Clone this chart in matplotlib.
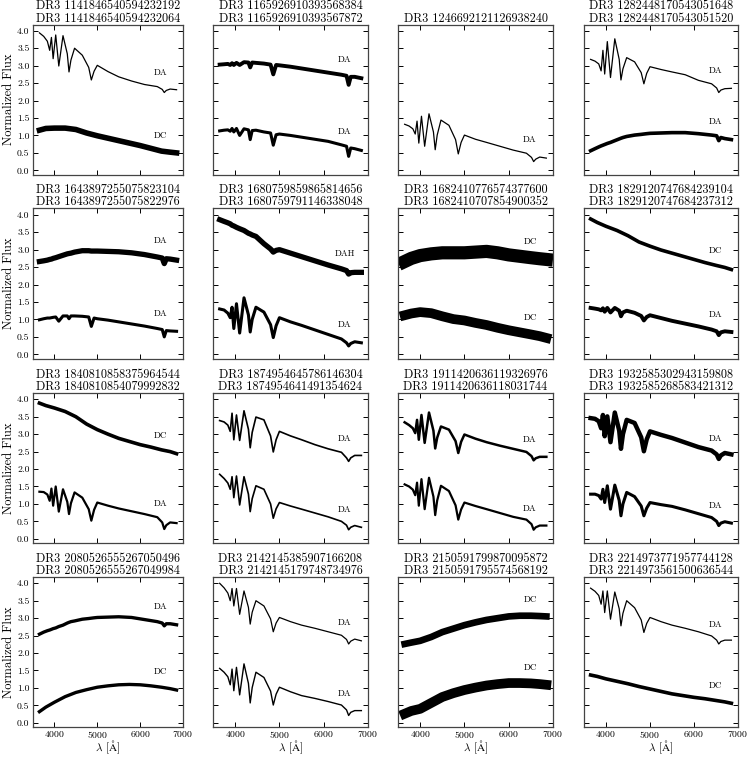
import numpy as np
import matplotlib.pyplot as plt

plt.rcParams['font.family'] = ['cmr10', 'DejaVu Serif']
plt.rcParams['mathtext.fontset'] = 'cm'
plt.rcParams['axes.formatter.use_mathtext'] = True

# wavelengths where the flux was read: Balmer lines plus continuum / wings
wl = [3650, 3750, 3835, 3889, 3930, 3970, 4030, 4102, 4200, 4300, 4340, 4385, 4470, 4650,
      4800, 4861, 4925, 5000, 5250, 5500, 5800, 6100, 6400, 6515, 6563, 6610, 6700, 6850]
# coarser wavelengths for featureless (DC-like) spectra
wl_c = [3650, 3800, 4000, 4250, 4500, 4750, 5000, 5250, 5500, 5750, 6000, 6250, 6500, 6700, 6850]

f00_top = [3.94, 3.84, 3.70, 3.44, 3.81, 3.20, 3.88, 2.99, 3.86, 3.34, 2.82, 3.16, 3.50, 3.30,
           2.95, 2.59, 2.84, 3.01, 2.83, 2.68, 2.56, 2.46, 2.40, 2.32, 2.23, 2.29, 2.33, 2.31]
f00_bot = [1.15, 1.20, 1.21, 1.21, 1.17, 1.07, 0.99, 0.92, 0.85, 0.78, 0.71, 0.63, 0.55, 0.52, 0.50]
f01_top = [3.03, 3.04, 3.05, 3.02, 3.07, 3.02, 3.08, 3.02, 3.10, 3.09, 2.95, 3.09, 3.08, 3.06,
           3.03, 2.75, 3.02, 3.01, 2.97, 2.92, 2.86, 2.80, 2.74, 2.71, 2.45, 2.68, 2.68, 2.64]
f01_bot = [1.13, 1.15, 1.16, 1.12, 1.20, 1.10, 1.20, 1.00, 1.19, 1.16, 0.88, 1.14, 1.15, 1.10,
           1.07, 0.72, 1.02, 1.04, 1.00, 0.95, 0.89, 0.83, 0.73, 0.69, 0.40, 0.64, 0.62, 0.57]
f02_top = [1.32, 1.27, 1.19, 1.04, 1.41, 0.78, 1.55, 0.69, 1.62, 1.10, 0.59, 1.01, 1.44, 1.29,
           0.88, 0.47, 0.80, 1.01, 0.89, 0.80, 0.69, 0.58, 0.49, 0.37, 0.25, 0.32, 0.38, 0.35]
f03_top = [3.18, 3.13, 3.05, 2.85, 3.44, 2.76, 3.69, 2.66, 3.77, 3.18, 2.59, 2.91, 3.23, 3.11,
           2.80, 2.48, 2.78, 2.97, 2.89, 2.82, 2.74, 2.58, 2.48, 2.36, 2.23, 2.30, 2.34, 2.35]
f03_bot = [0.56, 0.62, 0.67, 0.70, 0.72, 0.74, 0.77, 0.80, 0.85, 0.90, 0.92, 0.94, 0.97, 1.01,
           1.03, 1.04, 1.05, 1.06, 1.07, 1.08, 1.08, 1.05, 1.01, 0.99, 0.85, 0.94, 0.91, 0.88]

f10_top = [2.66, 2.68, 2.70, 2.72, 2.73, 2.75, 2.77, 2.80, 2.84, 2.88, 2.89, 2.90, 2.93, 2.97,
           2.97, 2.96, 2.96, 2.96, 2.95, 2.94, 2.91, 2.86, 2.79, 2.76, 2.60, 2.74, 2.73, 2.70]
f10_bot = [0.99, 1.02, 1.04, 1.04, 1.05, 1.06, 1.07, 0.95, 1.10, 1.10, 1.02, 1.10, 1.10, 1.09,
           1.07, 0.80, 1.04, 1.02, 0.98, 0.93, 0.87, 0.81, 0.74, 0.71, 0.50, 0.68, 0.67, 0.66]
f11_top = [3.86, 3.81, 3.77, 3.74, 3.70, 3.68, 3.64, 3.60, 3.55, 3.47, 3.45, 3.42, 3.38, 3.17,
           3.02, 2.93, 2.98, 3.00, 2.90, 2.80, 2.68, 2.56, 2.45, 2.40, 2.30, 2.34, 2.35, 2.35]
f11_bot = [1.30, 1.27, 1.18, 1.05, 1.35, 0.74, 1.45, 0.61, 1.62, 1.13, 0.64, 1.00, 1.35, 1.21,
           0.85, 0.48, 0.82, 1.05, 0.93, 0.83, 0.70, 0.57, 0.44, 0.33, 0.24, 0.31, 0.36, 0.33]
f12_top = [2.66, 2.75, 2.83, 2.88, 2.91, 2.91, 2.91, 2.93, 2.95, 2.91, 2.85, 2.81, 2.77, 2.74, 2.72]
f12_bot = [1.12, 1.17, 1.21, 1.18, 1.09, 1.01, 0.97, 0.90, 0.84, 0.76, 0.69, 0.63, 0.57, 0.52, 0.47]
f13_top = [3.88, 3.78, 3.67, 3.55, 3.40, 3.22, 3.10, 2.99, 2.90, 2.81, 2.72, 2.63, 2.55, 2.49, 2.43]
f13_bot = [1.33, 1.31, 1.29, 1.26, 1.32, 1.22, 1.33, 1.20, 1.33, 1.25, 1.09, 1.20, 1.25, 1.19,
           1.10, 0.97, 1.07, 1.12, 1.04, 0.96, 0.88, 0.80, 0.71, 0.66, 0.55, 0.63, 0.66, 0.64]

f20_top = [3.89, 3.82, 3.75, 3.65, 3.50, 3.29, 3.13, 3.00, 2.88, 2.79, 2.70, 2.63, 2.55, 2.50, 2.44]
f20_bot = [1.35, 1.34, 1.27, 1.09, 1.44, 0.95, 1.50, 0.78, 1.42, 1.06, 0.71, 1.02, 1.33, 1.18,
           0.85, 0.52, 0.83, 1.04, 0.95, 0.87, 0.79, 0.71, 0.62, 0.47, 0.28, 0.39, 0.47, 0.45]
f21_top = [3.39, 3.35, 3.26, 3.08, 3.60, 2.84, 3.55, 2.82, 3.67, 3.14, 2.61, 3.05, 3.49, 3.41,
           2.95, 2.49, 2.84, 3.08, 2.95, 2.84, 2.70, 2.58, 2.48, 2.32, 2.22, 2.32, 2.39, 2.39]
f21_bot = [1.85, 1.73, 1.60, 1.42, 1.78, 1.18, 1.80, 0.97, 1.78, 1.28, 0.78, 1.15, 1.52, 1.42,
           1.00, 0.59, 0.86, 1.04, 0.94, 0.85, 0.74, 0.63, 0.50, 0.39, 0.26, 0.33, 0.38, 0.33]
f22_top = [3.34, 3.26, 3.17, 3.03, 3.41, 2.84, 3.55, 2.75, 3.62, 3.10, 2.59, 2.90, 3.22, 3.13,
           2.80, 2.46, 2.78, 2.99, 2.87, 2.77, 2.67, 2.58, 2.49, 2.37, 2.25, 2.31, 2.35, 2.35]
f22_bot = [1.56, 1.50, 1.41, 1.25, 1.61, 0.95, 1.71, 0.85, 1.75, 1.21, 0.68, 1.10, 1.52, 1.37,
           0.96, 0.55, 0.84, 1.04, 0.94, 0.85, 0.74, 0.63, 0.55, 0.42, 0.26, 0.33, 0.38, 0.38]
f23_top = [3.46, 3.44, 3.37, 3.17, 3.55, 2.94, 3.51, 2.77, 3.62, 3.10, 2.58, 3.00, 3.41, 3.32,
           2.91, 2.51, 2.85, 3.08, 2.98, 2.89, 2.76, 2.63, 2.53, 2.42, 2.29, 2.39, 2.46, 2.42]
f23_bot = [1.28, 1.28, 1.24, 1.14, 1.42, 1.04, 1.52, 0.85, 1.54, 1.10, 0.66, 1.00, 1.33, 1.21,
           0.94, 0.66, 0.88, 1.04, 0.98, 0.93, 0.83, 0.72, 0.61, 0.50, 0.38, 0.45, 0.49, 0.45]

f30_top = [2.54, 2.60, 2.64, 2.66, 2.68, 2.70, 2.72, 2.76, 2.80, 2.86, 2.88, 2.90, 2.92, 2.97,
           2.99, 3.00, 3.01, 3.02, 3.03, 3.04, 3.02, 2.96, 2.90, 2.86, 2.78, 2.84, 2.84, 2.81]
f30_bot = [0.32, 0.45, 0.59, 0.75, 0.87, 0.95, 1.02, 1.06, 1.09, 1.10, 1.09, 1.06, 1.02, 0.98, 0.94]
f31_top = [4.00, 3.87, 3.72, 3.50, 3.85, 3.35, 3.85, 3.11, 3.78, 3.31, 2.83, 3.17, 3.50, 3.35,
           2.98, 2.61, 2.86, 3.02, 2.90, 2.80, 2.71, 2.61, 2.51, 2.39, 2.26, 2.34, 2.40, 2.35]
f31_bot = [1.56, 1.45, 1.32, 1.09, 1.54, 0.92, 1.59, 0.80, 1.69, 1.13, 0.57, 1.01, 1.45, 1.30,
           0.91, 0.51, 0.82, 1.02, 0.89, 0.78, 0.70, 0.61, 0.51, 0.37, 0.21, 0.30, 0.35, 0.35]
f32_top = [2.26, 2.30, 2.35, 2.46, 2.60, 2.70, 2.80, 2.88, 2.95, 3.00, 3.05, 3.07, 3.07, 3.06, 3.05]
f32_bot = [0.26, 0.34, 0.40, 0.57, 0.74, 0.85, 0.94, 1.01, 1.07, 1.11, 1.14, 1.14, 1.13, 1.11, 1.09]
f33_top = [3.86, 3.77, 3.65, 3.40, 3.78, 3.16, 3.78, 2.97, 3.75, 3.27, 2.78, 3.14, 3.50, 3.30,
           2.95, 2.59, 2.85, 3.02, 2.90, 2.80, 2.71, 2.61, 2.49, 2.37, 2.26, 2.33, 2.37, 2.37]
f33_bot = [1.37, 1.33, 1.26, 1.19, 1.12, 1.04, 0.97, 0.90, 0.83, 0.78, 0.73, 0.69, 0.64, 0.60, 0.56]

titles = [
    "DR3 1141846540594232192\nDR3 1141846540594232064",
    "DR3 1165926910393568384\nDR3 1165926910393567872",
    "DR3 1246692121126938240",
    "DR3 1282448170543051648\nDR3 1282448170543051520",
    "DR3 1643897255075823104\nDR3 1643897255075822976",
    "DR3 1680759859865814656\nDR3 1680759791146338048",
    "DR3 1682410776574377600\nDR3 1682410707854900352",
    "DR3 1829120747684239104\nDR3 1829120747684237312",
    "DR3 1840810858375964544\nDR3 1840810854079992832",
    "DR3 1874954645786146304\nDR3 1874954641491354624",
    "DR3 1911420636119326976\nDR3 1911420636118031744",
    "DR3 1932585302943159808\nDR3 1932585268583421312",
    "DR3 2080526555267050496\nDR3 2080526555267049984",
    "DR3 2142145385907166208\nDR3 2142145179748734976",
    "DR3 2150591799870095872\nDR3 2150591795574568192",
    "DR3 2214973771957744128\nDR3 2214973561500636544",
]

# per panel: (wavelengths, flux, spectral type)
spectra = [
    [(wl, f00_top, "DA"), (wl_c, f00_bot, "DC")],
    [(wl, f01_top, "DA"), (wl, f01_bot, "DA")],
    [(wl, f02_top, "DA")],
    [(wl, f03_top, "DA"), (wl, f03_bot, "DA")],
    [(wl, f10_top, "DA"), (wl, f10_bot, "DA")],
    [(wl, f11_top, "DAH"), (wl, f11_bot, "DA")],
    [(wl_c, f12_top, "DC"), (wl_c, f12_bot, "DC")],
    [(wl_c, f13_top, "DC"), (wl, f13_bot, "DA")],
    [(wl_c, f20_top, "DC"), (wl, f20_bot, "DA")],
    [(wl, f21_top, "DA"), (wl, f21_bot, "DA")],
    [(wl, f22_top, "DA"), (wl, f22_bot, "DA")],
    [(wl, f23_top, "DA"), (wl, f23_bot, "DA")],
    [(wl, f30_top, "DA"), (wl_c, f30_bot, "DC")],
    [(wl, f31_top, "DA"), (wl, f31_bot, "DA")],
    [(wl_c, f32_top, "DC"), (wl_c, f32_bot, "DC")],
    [(wl, f33_top, "DA"), (wl_c, f33_bot, "DC")],
]

# styling: line width stands in for the noise band; label heights
lws = [[0.9, 4.0], [2.8, 2.2], [0.9], [0.9, 2.6],
       [3.8, 2.2], [3.8, 2.2], [9.5, 7.0], [2.6, 2.8],
       [2.6, 1.6], [1.2, 1.2], [1.8, 1.6], [3.2, 2.2],
       [2.4, 2.4], [0.9, 1.0], [4.8, 7.0], [0.9, 2.6]]
label_y = [[2.80, 0.99], [3.17, 1.11], [0.87], [2.85, 1.38],
           [3.26, 1.16], [2.87, 0.85], [3.22, 1.04], [2.98, 1.13],
           [2.96, 1.01], [2.87, 0.84], [2.84, 0.85], [2.87, 0.94],
           [3.32, 1.45], [2.87, 0.82], [3.52, 1.59], [2.81, 1.07]]

W, H = 748, 757
fig = plt.figure(figsize=(W / 100, H / 100), dpi=100)
lefts = [33, 213, 398, 584]
widths = [150, 155, 155, 154]
tops = [24.5, 208.5, 393, 577]
ah = 150

for i in range(16):
    r, c = divmod(i, 4)
    ax = fig.add_axes([lefts[c] / W, 1 - (tops[r] + ah) / H, widths[c] / W, ah / H])
    for j, (x, flux, kind) in enumerate(spectra[i]):
        ax.plot(x, flux, color='k', lw=lws[i][j], solid_joinstyle='round')
        ax.text(6480, label_y[i][j], kind, fontsize=6.5, ha='center', va='center')
    ax.set_xlim(3500, 7000)
    ax.set_ylim(-0.12, 4.18)
    ax.set_xticks([4000, 5000, 6000, 7000])
    ax.set_yticks(np.arange(0, 4.01, 0.5))
    ax.tick_params(direction='in', top=True, right=True, length=3.5, width=0.7,
                   labelsize=7)
    ax.tick_params(axis='x', pad=1.2)
    ax.tick_params(axis='y', pad=2.5)
    for s in ax.spines.values():
        s.set_linewidth(0.9)
        s.set_color('#444444')
    ax.yaxis.set_major_formatter(plt.FormatStrFormatter('%.1f'))
    if c == 0:
        ax.set_ylabel("Normalized Flux", fontsize=9, labelpad=1.5)
    else:
        ax.tick_params(labelleft=False)
    if r == 3:
        ax.set_xlabel(r"$\lambda$ [$\mathrm{\AA}$]", fontsize=8, va='center')
        ax.xaxis.set_label_coords(0.5, -0.135)
    else:
        ax.tick_params(labelbottom=False)
    ax.set_title(titles[i], fontsize=8.8, pad=2, linespacing=1.0)

fig.savefig('out.png', dpi=100)
